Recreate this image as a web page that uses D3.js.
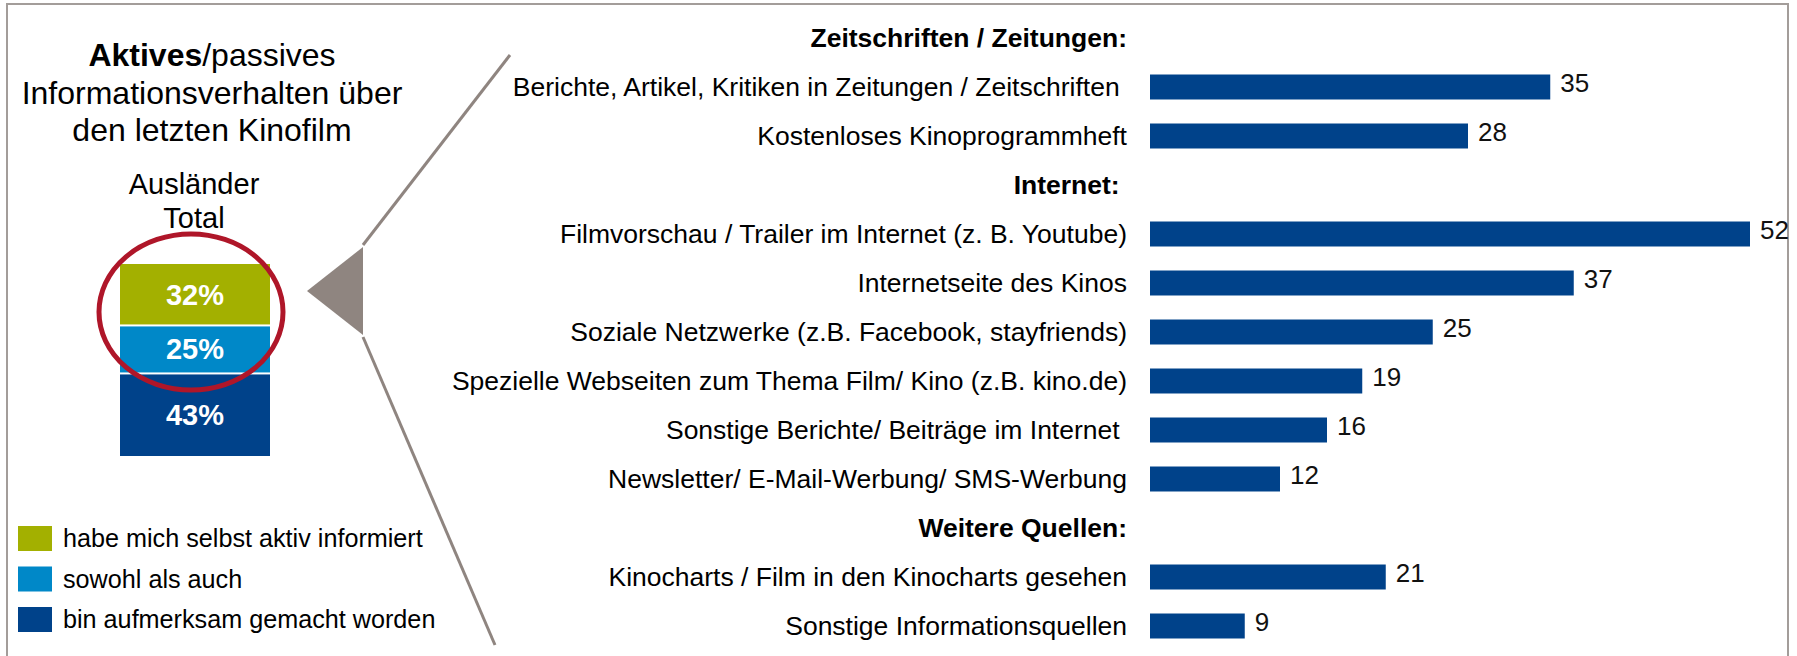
<!DOCTYPE html>
<html lang="de">
<head>
<meta charset="utf-8">
<title>Aktives/passives Informationsverhalten</title>
<script src="https://cdn.jsdelivr.net/npm/d3@7"></script>
<style>
  body { margin: 0; background: #fff; }
  text { font-family: "Liberation Sans", Arial, sans-serif; }
</style>
</head>
<body>
<script>
// stacked bar (left)
var stackLabels = ["habe mich selbst aktiv informiert", "sowohl als auch", "bin aufmerksam gemacht worden"];
var stackValues = [32, 25, 43];
var stackColors = ["#A3B000", "#0088C8", "#00428A"];

// bar chart (right), null = group header
var rowLabels = [
  "Zeitschriften / Zeitungen:",
  "Berichte, Artikel, Kritiken in Zeitungen / Zeitschriften ",
  "Kostenloses Kinoprogrammheft",
  "Internet: ",
  "Filmvorschau / Trailer im Internet (z. B. Youtube)",
  "Internetseite des Kinos",
  "Soziale Netzwerke (z.B. Facebook, stayfriends)",
  "Spezielle Webseiten zum Thema Film/ Kino (z.B. kino.de)",
  "Sonstige Berichte/ Beiträge im Internet ",
  "Newsletter/ E-Mail-Werbung/ SMS-Werbung",
  "Weitere Quellen:",
  "Kinocharts / Film in den Kinocharts gesehen",
  "Sonstige Informationsquellen"
];
var rowValues = [null, 35, 28, null, 52, 37, 25, 19, 16, 12, null, 21, 9];

var w = 1797, h = 656;
var gray = "#8F8580";
var svg = d3.select("body").append("svg").attr("width", w).attr("height", h);

// frame
svg.append("path").attr("d", "M7," + h + "V4H1788V" + h)
  .attr("fill", "none").attr("stroke", "#A39D9A").attr("stroke-width", 2);

// title
var title = svg.append("text").attr("text-anchor", "middle").attr("font-size", 32).attr("fill", "#000");
var t1 = title.append("tspan").attr("x", 212).attr("y", 66);
t1.append("tspan").attr("font-weight", "bold").text("Aktives");
t1.append("tspan").text("/passives");
title.append("tspan").attr("x", 212).attr("y", 104).text("Informationsverhalten über");
title.append("tspan").attr("x", 212).attr("y", 141).text("den letzten Kinofilm");

svg.append("text").attr("x", 194).attr("y", 194).attr("text-anchor", "middle")
  .attr("font-size", 29).text("Ausländer");
svg.append("text").attr("x", 194).attr("y", 228).attr("text-anchor", "middle")
  .attr("font-size", 29).text("Total");

// stacked column
var ys = d3.scaleLinear().domain([0, 100]).range([456, 264]);
var stack = [];
var acc = 0;
for (var i = stackValues.length - 1; i >= 0; i--) {
  stack.push({v: stackValues[i], y0: acc, y1: acc + stackValues[i], c: stackColors[i]});
  acc += stackValues[i];
}
svg.selectAll("rect.seg").data(stack).enter().append("rect").attr("class", "seg")
  .attr("x", 120).attr("width", 150)
  .attr("y", function(d) { return ys(d.y1) + (d.y1 < 100 ? 1 : 0); })
  .attr("height", function(d) { return ys(d.y0) - ys(d.y1) - (d.y1 < 100 ? 1 : 0) - (d.y0 > 0 ? 1 : 0); })
  .attr("fill", function(d) { return d.c; });
svg.selectAll("text.seg").data(stack).enter().append("text").attr("class", "seg")
  .attr("x", 195).attr("y", function(d) { return (ys(d.y0) + ys(d.y1)) / 2 + 10; })
  .attr("text-anchor", "middle").attr("font-size", 29).attr("font-weight", "bold")
  .attr("fill", "#fff").text(function(d) { return d.v + "%"; });

// red ellipse
svg.append("ellipse").attr("cx", 191).attr("cy", 312).attr("rx", 92).attr("ry", 78)
  .attr("fill", "none").attr("stroke", "#AF1629").attr("stroke-width", 5);

// pointer triangle and lines
svg.append("path").attr("d", "M307,291L363,247L363,335Z").attr("fill", gray);
svg.append("line").attr("x1", 363).attr("y1", 245).attr("x2", 510).attr("y2", 55)
  .attr("stroke", gray).attr("stroke-width", 3);
svg.append("line").attr("x1", 363).attr("y1", 337).attr("x2", 495).attr("y2", 645)
  .attr("stroke", gray).attr("stroke-width", 3);

// legend
var leg = svg.selectAll("g.leg").data(stackLabels).enter().append("g").attr("class", "leg")
  .attr("transform", function(d, i) { return "translate(18," + (526 + i * 40.5) + ")"; });
leg.append("rect").attr("width", 34).attr("height", 25)
  .attr("fill", function(d, i) { return stackColors[i]; });
leg.append("text").attr("x", 45).attr("y", 21).attr("font-size", 25.2).text(function(d) { return d; });

// bar chart
var yscale = d3.scaleBand().domain(d3.range(rowLabels.length))
  .range([13.5, 650.5]).paddingInner(0.49).paddingOuter(0.245);
var barLeft = 1150;
var xscale = d3.scaleLinear().domain([0, 52]).range([1139, 1750]);

svg.selectAll("text.cat").data(rowLabels).enter().append("text").attr("class", "cat")
  .attr("x", 1127)
  .attr("y", function(d, i) { return yscale(i) + yscale.bandwidth() / 2 + 9; })
  .attr("text-anchor", "end").attr("font-size", 26.5).attr("fill", "#000")
  .attr("font-weight", function(d, i) { return rowValues[i] === null ? "bold" : "normal"; })
  .style("white-space", "pre")
  .text(function(d) { return d; });

var bars = rowValues.map(function(v, i) { return {v: v, i: i}; })
  .filter(function(d) { return d.v !== null; });

svg.selectAll("rect.bar").data(bars).enter().append("rect").attr("class", "bar")
  .attr("x", barLeft)
  .attr("y", function(d) { return yscale(d.i); })
  .attr("width", function(d) { return xscale(d.v) - barLeft; })
  .attr("height", yscale.bandwidth())
  .attr("fill", "#00428A");

svg.selectAll("text.val").data(bars).enter().append("text").attr("class", "val")
  .attr("x", function(d) { return xscale(d.v) + 10; })
  .attr("y", function(d) { return yscale(d.i) + yscale.bandwidth() / 2 + 5; })
  .attr("font-size", 26).attr("fill", "#111")
  .text(function(d) { return d.v; });
</script>
</body>
</html>
